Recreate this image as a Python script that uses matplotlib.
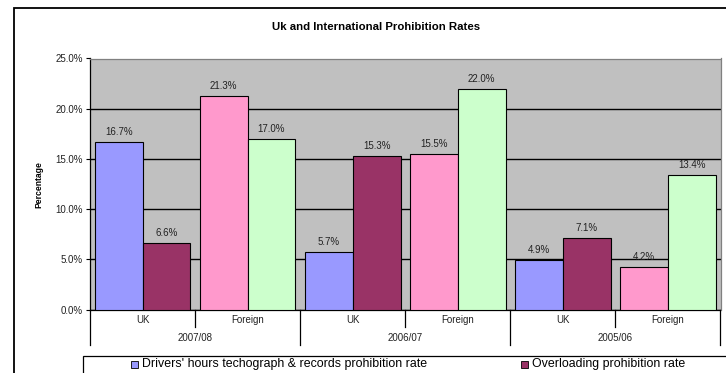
"""
Grouped bar chart of UK and international (foreign) prohibition rates
for drivers' hours and overloading checks, by year.
"""

import numpy as np
import matplotlib.pyplot as plt
from matplotlib.patches import Rectangle
from matplotlib.transforms import blended_transform_factory

plt.rcParams['font.family'] = ['Liberation Sans', 'DejaVu Sans']

# Data (percent)
years = ['2007/08', '2006/07', '2005/06']
origins = ['UK', 'Foreign']
drivers_hours = [16.7, 21.3, 5.7, 15.5, 4.9, 4.2]
overloading = [6.6, 17.0, 15.3, 22.0, 7.1, 13.4]

# Excel-style palette: UK and foreign pairs use different fills
uk_colors = ('#9999FF', '#993366')
foreign_colors = ('#FF99CC', '#CCFFCC')

TEXT = '#222222'
SMALL = 7.0

W, H = 726, 373
fig = plt.figure(figsize=(W / 100, H / 100), dpi=100)
fig.patch.set_facecolor('white')

# Outer chart frame (runs off the right and bottom edges)
fig.patches.append(Rectangle((13.5 / W, -0.2), 1.2, 1.2 - 8 / H,
                             transform=fig.transFigure, fill=False,
                             edgecolor='black', linewidth=1.3, zorder=0))

ax = fig.add_axes([90 / W, 1 - 309.5 / H, 630.5 / W, 251 / H])
ax.set_facecolor('#C0C0C0')

n = len(drivers_hours)
x = np.arange(n)
width = 0.455
c1 = [uk_colors[0] if i % 2 == 0 else foreign_colors[0] for i in range(n)]
c2 = [uk_colors[1] if i % 2 == 0 else foreign_colors[1] for i in range(n)]

bars1 = ax.bar(x - width / 2, drivers_hours, width, color=c1,
               edgecolor='black', linewidth=0.8, zorder=3)
bars2 = ax.bar(x + width / 2, overloading, width, color=c2,
               edgecolor='black', linewidth=0.8, zorder=3)

for bars, vals in ((bars1, drivers_hours), (bars2, overloading)):
    for bar, v in zip(bars, vals):
        ax.annotate(f'{v:.1f}%', (bar.get_x() + bar.get_width() / 2, v),
                    xytext=(0, 3.5), textcoords='offset points',
                    ha='center', va='bottom', fontsize=SMALL,
                    color=TEXT, zorder=4)

ax.set_xlim(-0.5, n - 0.5)
ax.set_ylim(0, 25)
yt = np.arange(0, 26, 5)
ax.set_yticks(yt)
ax.set_yticklabels([f'{v:.1f}%' for v in yt], fontsize=SMALL, color=TEXT)
ax.tick_params(axis='y', length=3, width=0.8, pad=2)
ax.set_xticks([])
ax.grid(axis='y', color='black', linewidth=1.0, zorder=1)

for side in ('top', 'right'):
    ax.spines[side].set_color('#808080')
    ax.spines[side].set_linewidth(0.9)
for side in ('left', 'bottom'):
    ax.spines[side].set_color('black')
    ax.spines[side].set_linewidth(0.9)

ax.set_ylabel('Percentage', fontsize=6.2, fontweight='bold', va='center')
ax.yaxis.set_label_coords(-51 / 630.5, 0.496)

# Two-level category axis: origin within each year
trans = blended_transform_factory(ax.transData, ax.transAxes)
for i in range(n):
    ax.text(i, -0.042, origins[i % 2], transform=trans, ha='center',
            va='center', fontsize=SMALL, color=TEXT)
for g, year in enumerate(years):
    ax.text(2 * g + 0.5, -0.113, year, transform=trans, ha='center',
            va='center', fontsize=SMALL, color=TEXT)
for b in np.arange(-0.5, n, 1.0):
    long_line = (b + 0.5) % 2 == 0
    ax.plot([b, b], [0, -0.14 if long_line else -0.07], transform=trans,
            color='black', linewidth=0.9, clip_on=False)

fig.text(376 / W, 1 - 26.5 / H, 'Uk and International Prohibition Rates',
         ha='center', va='center', fontsize=8.2, fontweight='bold')

# Legend box along the bottom edge
fig.patches.append(Rectangle((83 / W, -0.1), 1.0, 0.1 + 1 - 356 / H,
                             transform=fig.transFigure, facecolor='white',
                             edgecolor='black', linewidth=0.9, zorder=1))
legend_items = [(131, uk_colors[0], "Drivers' hours techograph & records prohibition rate"),
                (521, uk_colors[1], 'Overloading prohibition rate')]
for px, color, label in legend_items:
    fig.patches.append(Rectangle((px / W, 1 - 367.5 / H), 7 / W, 7 / H,
                                 transform=fig.transFigure, facecolor=color,
                                 edgecolor='black', linewidth=0.6, zorder=2))
    fig.text((px + 11) / W, 1 - 364.5 / H, label, ha='left', va='center',
             fontsize=8.9, zorder=3)

fig.savefig('out.png', dpi=100, facecolor='white')
